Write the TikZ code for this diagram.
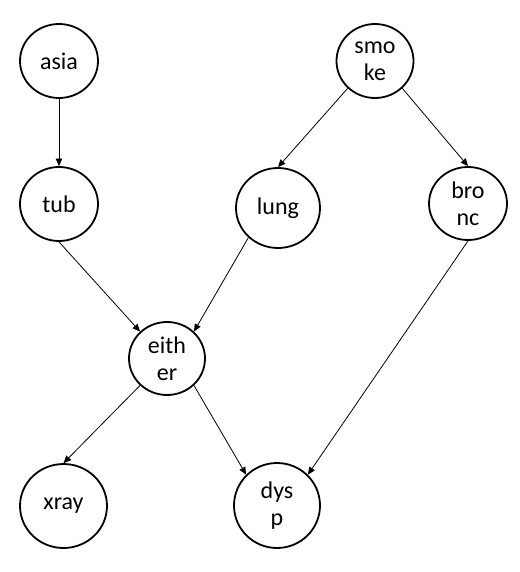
\documentclass[tikz,border=0pt]{standalone}
\usepackage{fontspec}
\setmainfont{Carlito}
\usetikzlibrary{shapes.geometric,arrows.meta}
\begin{document}
\begin{tikzpicture}[x=1bp,y=-1bp,
  var/.style={draw=black,line width=1.8bp,ellipse,inner sep=0pt,align=center,
    font=\fontsize{24bp}{27bp}\selectfont},
  link/.style={line width=0.8bp,-{Triangle[length=7.5bp,width=6.5bp]}}]
\useasboundingbox[fill=white] (0,0) rectangle (520,572);
\node[var,minimum width=78bp,minimum height=74bp] (asia) at (59,61) {asia};
\node[var,minimum width=77bp,minimum height=74bp] (smoke) at (375,61) {smo\\ke};
\node[var,minimum width=78bp,minimum height=74bp] (tub) at (59,204) {tub};
\node[var,minimum width=84bp,minimum height=80bp] (lung) at (278,208) {lung};
\node[var,minimum width=78bp,minimum height=73bp] (bronc) at (468,203.5) {bro\\nc};
\node[var,minimum width=76bp,minimum height=73bp] (either) at (167,358.5) {eith\\er};
\node[var,minimum width=87bp,minimum height=84bp] (xray) at (63.5,506) {xray};
\node[var,minimum width=86bp,minimum height=85bp] (dysp) at (277,505.5) {dys\\p};
\draw[link] (asia.south) -- (tub.north);
\draw[link] (smoke.225) -- (lung.north);
\draw[link] (smoke.315) -- (bronc.north);
\draw[link] (tub.south) -- (either.135);
\draw[link] (lung.225) -- (either.45);
\draw[link] (bronc.south) -- (dysp.45);
\draw[link] (either.225) -- (xray.north);
\draw[link] (either.315) -- (dysp.135);
\end{tikzpicture}
\end{document}
